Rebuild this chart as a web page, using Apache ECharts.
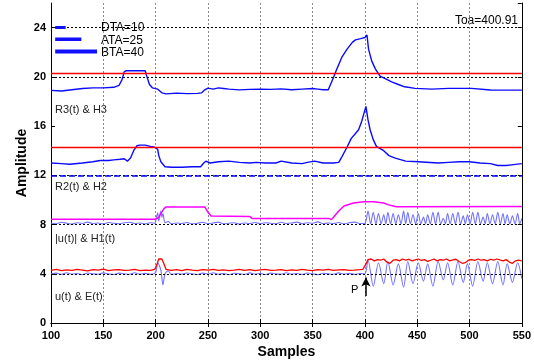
<!DOCTYPE html>
<html>
<head>
<meta charset="utf-8">
<script src="https://cdn.jsdelivr.net/npm/echarts@6/dist/echarts.min.js"></script>
<style>
  html, body { margin: 0; padding: 0; background: #fff; }
  #chart { width: 534px; height: 364px; }
</style>
</head>
<body>
<div id="chart"></div>
<script>
// axis ticks
const xTicks = { min: 100, max: 550, step: 50 };
const yTicks = { min: 0, max: 26, step: 4 };

// horizontal reference levels (black dotted) and thresholds
const refLevels = [4, 8, 12, 20, 24];
const h2Base = 12;          // blue dashed line
const thresholds = [20.3, 14.3]; // H3, H2 (red)

// R3(t)
const R3 = [[100,18.9],[110,18.85],[120,18.95],[130,19.05],[140,19.1],[150,19.1],[160,19.15],[165,19.3],[168,19.8],[170,20.4],[172,20.5],[190,20.5],[191,20.2],[194,19.4],[197,19.1],[202,19.0],[206,18.7],[210,18.62],[220,18.68],[230,18.64],[240,18.66],[244,18.7],[247,18.95],[250,19.08],[255,19.0],[260,19.1],[265,19.05],[270,19.0],[280,18.94],[290,18.98],[300,19.0],[310,18.98],[320,19.02],[330,18.95],[340,19.0],[350,19.05],[355,19.0],[360,18.95],[365,18.95],[370,19.95],[373,20.6],[378,21.6],[383,22.25],[388,22.8],[391,23.0],[396,23.1],[400,23.2],[402,23.4],[403.5,22.25],[406.5,21.3],[410,20.65],[414.5,20.06],[419.5,19.86],[425.5,19.59],[432,19.38],[438,19.19],[448,19.06],[464,19.0],[480,19.06],[502,19.06],[520,18.93],[550,18.92]];

// R2(t)
const R2 = [[100,13.0],[110,12.95],[118,12.9],[130,13.0],[140,13.1],[147,13.2],[155,13.2],[160,13.25],[166,13.3],[170,13.35],[173,13.15],[176,13.4],[179,14.0],[182,14.4],[185,14.45],[190,14.45],[195,14.35],[198,14.3],[200,14.25],[202,14.1],[203,13.6],[205,13.1],[207,12.9],[209,12.7],[215,12.65],[225,12.65],[235,12.7],[243,12.7],[246,13.0],[248,13.15],[252,13.0],[260,13.1],[270,13.15],[280,13.05],[290,13.0],[296,13.05],[305,13.0],[315,13.0],[320,13.15],[330,13.0],[340,12.95],[345,13.05],[352,13.15],[360,13.0],[370,13.0],[375,13.05],[378,13.5],[383,14.3],[387,15.0],[391,15.4],[394,15.7],[397,16.4],[401,17.6],[403,16.5],[405,15.7],[408,14.9],[411,14.35],[418,14.0],[423,13.6],[429,13.4],[439,13.15],[451,13.1],[470,13.0],[480,13.05],[490,13.1],[500,13.1],[510,13.0],[520,12.95],[527,12.8],[535,12.8],[540,12.85],[550,12.95]];

// H1(t)
const H1 = [[100,8.43],[200,8.43],[203,8.6],[205,8.9],[208,9.3],[210,9.43],[247,9.43],[250,9.0],[253,8.7],[290,8.65],[292,8.5],[365,8.5],[368,8.4],[370,8.6],[375,9.1],[380,9.5],[389,9.75],[399,9.86],[408,9.86],[418,9.75],[422,9.62],[427,9.5],[430,9.45],[550,9.47]];

// |u(t)|
const absU = [[100,8.12],[105,8.06],[110,8.18],[115,8.1],[120,8.04],[125,8.15],[130,8.09],[135,8.2],[140,8.07],[145,8.13],[150,8.05],[155,8.17],[160,8.1],[165,8.06],[170,8.14],[175,8.19],[180,8.08],[185,8.12],[190,8.05],[195,8.15],[199,8.1],[201,8.7],[202,8.95],[203,8.3],[205,9.1],[206,8.6],[207,8.9],[209,8.15],[212,8.25],[215,8.06],[220,8.12],[225,8.08],[230,8.16],[235,8.05],[240,8.11],[245,8.18],[250,8.07],[255,8.13],[260,8.2],[265,8.06],[270,8.1],[275,8.15],[280,8.04],[285,8.12],[290,8.09],[295,8.17],[300,8.06],[305,8.14],[310,8.1],[315,8.05],[320,8.18],[325,8.08],[330,8.12],[335,8.2],[340,8.07],[345,8.15],[350,8.1],[355,8.22],[360,8.06],[365,8.13],[370,8.09],[375,8.17],[380,8.05],[385,8.14],[390,8.2],[395,8.08],
  [400,8.1],[403,9.1],[405.5,8.05],[408,9.0],[410.5,8.05],[413,8.9],[415.5,8.05],[418,8.8],[420,8.05],[422,9.0],[424.5,8.05],[427,8.9],[429.5,8.05],[432,8.8],[434.5,8.05],[437,9.1],[439,8.05],[441,9.0],[443.5,8.05],[446,8.8],[448.5,8.05],[451,8.9],[453.5,8.05],[456,8.6],[458,8.05],[460,8.8],[462.5,8.05],[465,9.0],[467.5,8.05],[470,9.0],[472.5,8.05],[475,8.5],[477,8.05],[479,8.9],[481.5,8.05],[484,8.9],[486.5,8.05],[489,9.0],[491.5,8.05],[494,8.7],[496,8.05],[498,8.8],[500.5,8.05],[503,9.0],[505.5,8.05],[508,9.0],[510.5,8.05],[513,8.6],[515,8.05],[517,8.9],[519.5,8.05],[522,8.8],[524.5,8.05],[527,9.0],[529.5,8.05],[532,8.9],[534,8.05],[536,8.8],[538.5,8.05],[541,8.7],[543.5,8.05],[546,8.9],[548,8.05],[550,8.5]];

// u(t)
const U = [[100,3.98],[105,4.05],[110,3.95],[115,4.08],[120,3.97],[125,4.02],[130,3.93],[135,4.06],[140,4.0],[145,3.96],[150,4.07],[155,3.99],[160,3.94],[165,4.05],[170,4.0],[175,3.96],[180,4.08],[185,3.98],[190,4.03],[195,3.95],[200,4.1],[202,4.9],[205,4.3],[207,3.1],[209,4.0],[212,4.25],[215,3.95],[220,4.02],[225,3.97],[230,4.06],[235,3.99],[240,3.94],[245,4.05],[250,3.98],[255,4.08],[260,3.96],[265,4.02],[270,3.93],[275,4.04],[280,4.0],[285,3.95],[290,4.07],[295,3.98],[300,4.03],[305,3.94],[310,4.05],[315,3.99],[320,3.96],[325,4.08],[330,3.97],[335,4.02],[340,3.95],[345,4.06],[350,3.99],[355,3.93],[360,4.04],[365,4.0],[370,3.96],[375,4.07],[380,3.98],[385,4.03],[390,3.95],[395,4.02],
  [400,4.0],[403,5.1],[408,3.0],[413,4.9],[418,3.2],[422,5.0],[427,3.1],[432,4.8],[437,2.9],[441,5.0],[446,3.2],[451,4.9],[456,3.4],[460,4.8],[465,3.0],[470,5.0],[475,3.5],[479,4.9],[484,3.1],[489,5.0],[494,3.3],[498,4.8],[503,3.0],[508,5.0],[513,3.4],[517,4.9],[522,3.2],[527,5.0],[532,3.1],[536,4.8],[541,3.3],[546,4.9],[550,3.6]];

// E(t)
const E = [[100,4.28],[105,4.35],[110,4.25],[115,4.32],[120,4.27],[125,4.36],[130,4.3],[135,4.24],[140,4.33],[145,4.29],[150,4.37],[155,4.26],[160,4.31],[165,4.34],[170,4.27],[175,4.3],[180,4.35],[185,4.25],[190,4.3],[195,4.28],[199,4.35],[201,4.7],[203,5.2],[206,5.2],[208,4.8],[210,4.35],[215,4.28],[220,4.33],[225,4.26],[230,4.36],[235,4.3],[240,4.25],[245,4.34],[250,4.29],[255,4.35],[260,4.27],[265,4.32],[270,4.26],[275,4.3],[280,4.36],[285,4.28],[290,4.33],[295,4.25],[300,4.31],[305,4.35],[310,4.27],[315,4.3],[320,4.34],[325,4.26],[330,4.32],[335,4.28],[340,4.36],[345,4.3],[350,4.25],[355,4.33],[360,4.29],[365,4.35],[370,4.27],[375,4.31],[380,4.34],[385,4.28],[390,4.3],[395,4.33],[398,4.35],
  [401,4.8],[403,5.15],[406,5.2],[409,5.05],[412,5.15],[415,5.1],[418,5.2],[421,4.95],[424,4.85],[427,5.1],[430,5.15],[433,5.05],[436,5.2],[439,5.1],[442,5.18],[445,5.05],[448,5.12],[451,5.2],[454,5.08],[457,5.15],[460,5.0],[463,5.1],[466,5.2],[469,5.05],[472,5.15],[475,5.1],[478,5.2],[481,5.05],[484,5.12],[487,5.18],[490,5.0],[493,4.85],[496,4.9],[499,5.1],[502,5.15],[505,5.08],[508,5.2],[511,5.1],[514,5.15],[517,5.05],[520,5.18],[523,5.1],[526,5.2],[529,5.12],[532,5.05],[535,5.15],[538,4.95],[541,4.85],[544,5.05],[547,5.1],[550,5.05]];

// duration legend (length in samples)
const legendNames = ['DTA=10', 'ATA=25', 'BTA=40'];
const legendDurations = [10, 25, 40];
const legendLevels = [24, 23.05, 22.05];
const legendStart = 104;

// onset marker
const onset = 400.91;
const arrowFrom = 2.2, arrowTo = 3.7;

const FONT = 'Liberation Sans, Arial, sans-serif';
const chart = echarts.init(document.getElementById('chart'));

const legendSeries = legendDurations.map((d, i) => ({
  type: 'line',
  data: [[legendStart, legendLevels[i]], [legendStart + d, legendLevels[i]]],
  symbol: 'none',
  silent: true,
  z: 6,
  lineStyle: { color: '#1010ff', width: 3 + i * 0.5 }
}));

const option = {
  animation: false,
  backgroundColor: '#fff',
  grid: { left: 51, right: 10, top: 3, bottom: 35, containLabel: false },
  xAxis: [
    {
      type: 'value', min: xTicks.min, max: xTicks.max, interval: xTicks.step,
      name: 'Samples', nameLocation: 'middle', nameGap: 22, nameMoveOverlap: false,
      nameTextStyle: { fontFamily: FONT, fontSize: 14, fontWeight: 'bold', color: '#000' },
      axisLine: { show: true, lineStyle: { color: '#000', width: 1 } },
      axisTick: { show: true, inside: true, length: 4, lineStyle: { color: '#000' } },
      axisLabel: { fontFamily: FONT, fontSize: 11, fontWeight: 'bold', color: '#000', margin: 7 },
      splitLine: { show: true, lineStyle: { color: '#8a8a8a', type: [2, 2], width: 1 } }
    },
    {
      type: 'value', position: 'top', min: xTicks.min, max: xTicks.max, interval: xTicks.step,
      axisLine: { show: true, lineStyle: { color: '#000', width: 1 } },
      axisTick: { show: true, inside: true, length: 4, lineStyle: { color: '#000' } },
      axisLabel: { show: false }, splitLine: { show: false }
    }
  ],
  yAxis: [
    {
      type: 'value', min: yTicks.min, max: yTicks.max, interval: yTicks.step,
      name: 'Amplitude', nameLocation: 'middle', nameGap: 22, nameRotate: 90, nameMoveOverlap: false,
      nameTextStyle: { fontFamily: FONT, fontSize: 14, fontWeight: 'bold', color: '#000' },
      axisLine: { show: true, lineStyle: { color: '#000', width: 1 } },
      axisTick: { show: true, inside: true, length: 4, lineStyle: { color: '#000' } },
      axisLabel: { fontFamily: FONT, fontSize: 11, fontWeight: 'bold', color: '#000', margin: 5, showMaxLabel: false },
      splitLine: { show: false }
    },
    {
      type: 'value', position: 'right', min: yTicks.min, max: yTicks.max, interval: yTicks.step,
      axisLine: { show: true, lineStyle: { color: '#000', width: 1 } },
      axisTick: { show: true, inside: true, length: 4, lineStyle: { color: '#000' } },
      axisLabel: { show: false }, splitLine: { show: false }
    }
  ],
  series: [
    {
      type: 'line', data: [], silent: true,
      markLine: {
        symbol: 'none', silent: true, label: { show: false },
        lineStyle: { color: '#000', type: [2, 2], width: 1 },
        data: refLevels.map(v => ({ yAxis: v }))
      }
    },
    {
      type: 'line', data: [], silent: true,
      markLine: {
        symbol: 'none', silent: true, label: { show: false },
        lineStyle: { color: '#0000ff', type: [6, 3], width: 1.5 },
        data: [{ yAxis: h2Base }]
      }
    },
    {
      type: 'line', data: [], silent: true,
      markLine: {
        symbol: 'none', silent: true, label: { show: false },
        lineStyle: { color: '#ff0000', type: 'solid', width: 1.3 },
        data: thresholds.map(v => ({ yAxis: v }))
      }
    },
    { type: 'line', data: R3, symbol: 'none', lineStyle: { color: '#0a0aff', width: 1.4 } },
    { type: 'line', data: R2, symbol: 'none', lineStyle: { color: '#0a0aff', width: 1.4 } },
    { type: 'line', data: absU, symbol: 'none', smooth: 0.3, lineStyle: { color: '#7373ff', width: 1.1 } },
    { type: 'line', data: H1, symbol: 'none', lineStyle: { color: '#ff00ff', width: 1.5 } },
    { type: 'line', data: U, symbol: 'none', smooth: 0.3, lineStyle: { color: '#7373ff', width: 1.1 } },
    {
      type: 'line', data: E, symbol: 'none', lineStyle: { color: '#ff0000', width: 1.3 },
      markLine: {
        silent: true, symbol: ['none', 'arrow'], symbolSize: [7, 9],
        label: { show: false },
        lineStyle: { color: '#000', type: 'solid', width: 1.5 },
        data: [[{ coord: [Math.round(onset), arrowFrom] }, { coord: [Math.round(onset), arrowTo] }]]
      }
    },
    ...legendSeries
  ],
  graphic: [
    ...legendNames.map((t, i) => ({
      type: 'text', left: 101, top: [22, 35, 47][i],
      style: { text: t, fontFamily: FONT, fontSize: 12, fill: '#000' }
    })),
    { type: 'text', right: 16, top: 15, style: { text: 'Toa=' + onset.toFixed(2), fontFamily: FONT, fontSize: 12, fill: '#000' } },
    { type: 'text', left: 55, top: 104, style: { text: 'R3(t) & H3', fontFamily: FONT, fontSize: 11, fill: '#222' } },
    { type: 'text', left: 55, top: 181, style: { text: 'R2(t) & H2', fontFamily: FONT, fontSize: 11, fill: '#222' } },
    { type: 'text', left: 55, top: 233, style: { text: '|u(t)| & H1(t)', fontFamily: FONT, fontSize: 11, fill: '#222' } },
    { type: 'text', left: 55, top: 291, style: { text: 'u(t) & E(t)', fontFamily: FONT, fontSize: 11, fill: '#222' } },
    { type: 'text', left: 351, top: 284, style: { text: 'P', fontFamily: FONT, fontSize: 11, fill: '#000' } }
  ]
};

chart.setOption(option);
</script>
</body>
</html>
